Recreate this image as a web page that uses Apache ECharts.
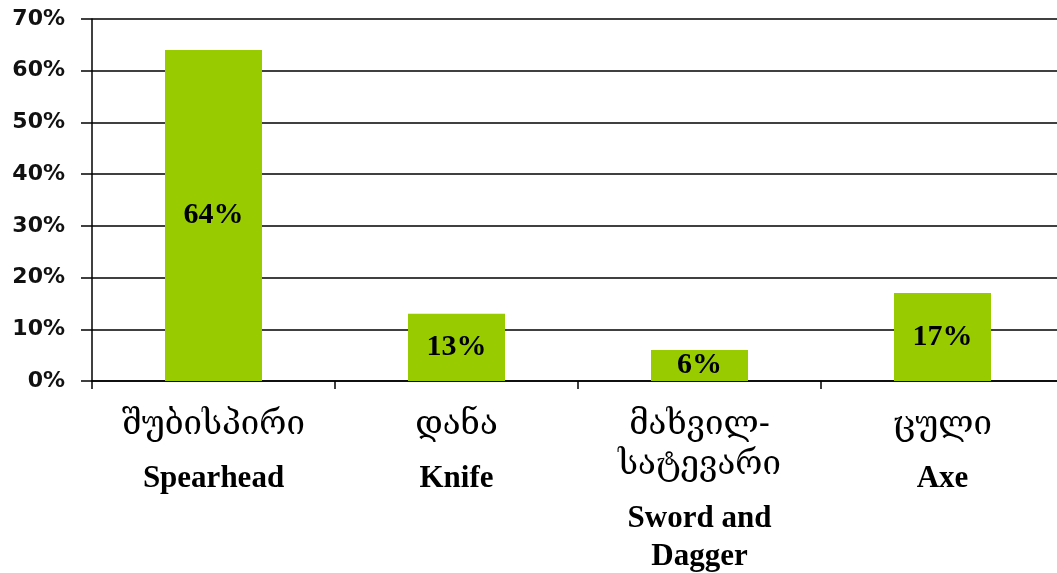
<!DOCTYPE html>
<html>
<head>
<meta charset="utf-8">
<script src="https://cdn.jsdelivr.net/npm/echarts@6/dist/echarts.min.js"></script>
<style>
  html, body { margin: 0; padding: 0; background: #fff; }
  #chart { width: 1057px; height: 573px; }
</style>
</head>
<body>
<div id="chart"></div>
<script>
// data
const categoriesKa = [['შუბისპირი'], ['დანა'], ['მახვილ-', 'სატევარი'], ['ცული']];
const categoriesEn = [['Spearhead'], ['Knife'], ['Sword and', 'Dagger'], ['Axe']];
const shares = [64, 13, 6, 17];
const yTicks = [0, 10, 20, 30, 40, 50, 60, 70];

// category label = georgian lines, small gap, english lines
const catLabels = categoriesKa.map((ka, i) => {
  const g = ka.map(t => '{g|' + t + '}');
  const e = categoriesEn[i].map(t => '{e|' + t + '}');
  return g.concat(['{s| }']).concat(e).join('\n');
});

const chart = echarts.init(document.getElementById('chart'));
chart.setOption({
  animation: false,
  grid: { left: 92, top: 19, width: 972, height: 362, outerBoundsMode: 'none' },
  xAxis: {
    type: 'category',
    data: catLabels,
    axisLine: { lineStyle: { color: '#000', width: 1.5 } },
    axisTick: { show: true, length: 8, lineStyle: { color: '#000', width: 1.5 } },
    axisLabel: {
      margin: 24,
      interval: 0,
      color: '#000',
      rich: {
        g: { fontFamily: "'DejaVu Serif', 'DejaVu Sans'", fontSize: 33, lineHeight: 40, color: '#000' },
        s: { fontSize: 10, lineHeight: 15 },
        e: { fontFamily: "'Liberation Serif', 'Times New Roman', serif", fontWeight: 'bold', fontSize: 31, lineHeight: 38, color: '#000' }
      }
    }
  },
  yAxis: {
    type: 'value',
    min: yTicks[0],
    max: yTicks[yTicks.length - 1],
    interval: 10,
    axisLine: { show: true, lineStyle: { color: '#000', width: 1.5 } },
    axisTick: { show: true, length: 11, lineStyle: { color: '#000', width: 1.5 } },
    splitLine: { lineStyle: { color: '#000', width: 1.5 } },
    axisLabel: {
      margin: 27,
      formatter: '{value}%',
      color: '#111',
      fontFamily: "'DejaVu Sans', Verdana, sans-serif",
      fontWeight: 'bold',
      fontSize: 22
    }
  },
  series: [{
    type: 'bar',
    data: shares,
    barWidth: 97,
    itemStyle: { color: '#99cc00' },
    label: {
      show: true,
      position: 'inside',
      formatter: '{c}%',
      color: '#000',
      fontFamily: "'Liberation Serif', 'Times New Roman', serif",
      fontWeight: 'bold',
      fontSize: 30
    }
  }]
});
</script>
</body>
</html>
